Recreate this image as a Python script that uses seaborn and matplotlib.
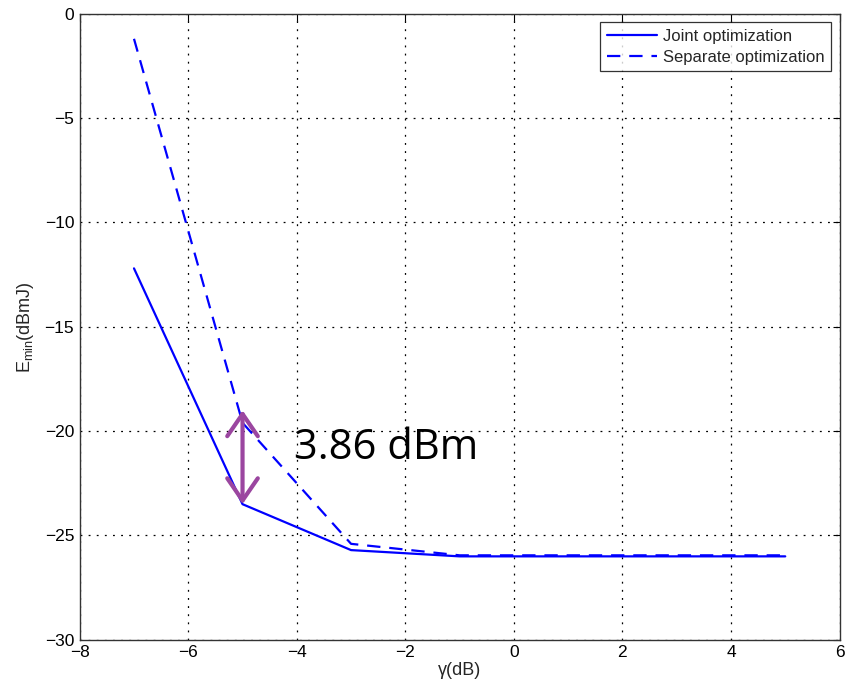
import numpy as np
import pandas as pd
import matplotlib.pyplot as plt
import seaborn as sns

# values
gamma_db = [-7, -5, -3, -1, 1, 3, 5]
joint_opt = [-12.2, -23.5, -25.7, -26.0, -26.0, -26.0, -26.0]
separate_opt = [-1.2, -19.6, -25.4, -25.95, -25.95, -25.95, -25.95]
series_names = ["Joint optimization", "Separate optimization"]

df = pd.DataFrame({
    "gamma": gamma_db * 2,
    "E": joint_opt + separate_opt,
    "method": [series_names[0]] * len(gamma_db) + [series_names[1]] * len(gamma_db),
})

sns.set_theme(style="white")
plt.rcParams["font.family"] = ["Liberation Sans", "DejaVu Sans"]
plt.rcParams["mathtext.fontset"] = "custom"
plt.rcParams["mathtext.rm"] = "Liberation Sans"

fig, ax = plt.subplots(figsize=(8.48, 6.88), dpi=100)
fig.subplots_adjust(left=0.094, right=0.99, bottom=0.07, top=0.98)

sns.lineplot(
    data=df, x="gamma", y="E", style="method",
    dashes={series_names[0]: "", series_names[1]: (6, 4)},
    color="#0000ff", linewidth=1.6, ax=ax,
)

ax.set_xlim(-8, 6)
ax.set_ylim(-30, 0)
ax.set_xticks(np.arange(-8, 7, 2))
ax.set_yticks(np.arange(-30, 1, 5))
ax.set_xticklabels([f"\u2212{abs(v)}" if v < 0 else str(v) for v in range(-8, 7, 2)])
ax.set_yticklabels([f"\u2212{abs(v)}" if v < 0 else str(v) for v in range(-30, 1, 5)])
ax.tick_params(direction="in", top=True, right=True, length=5, width=0.8,
               labelsize=12.5, colors="black", pad=4)
ax.grid(True, linestyle=(0, (1.5, 5)), color="black", linewidth=0.9)
for s in ax.spines.values():
    s.set_color("#333333")
    s.set_linewidth(1.0)

ax.set_xlabel("\u03b3(dB)", fontsize=13, labelpad=1)
ax.set_ylabel(r"E$_{\rm min}$(dBmJ)", fontsize=13, labelpad=6)

leg = ax.legend(loc="upper right", fontsize=12, frameon=True, fancybox=False,
                handlelength=3.0, borderpad=0.4, labelspacing=0.35,
                handletextpad=0.35, borderaxespad=0.5)
leg.get_frame().set_edgecolor("black")
leg.get_frame().set_linewidth(0.9)

# gap annotation at gamma = -5
ax.annotate("", xy=(-5, joint_opt[1]), xytext=(-5, -19.0),
            arrowprops=dict(arrowstyle="<->,head_length=0.8,head_width=0.55",
                            mutation_scale=20, color="#9b46a0", lw=3,
                            shrinkA=0, shrinkB=0))
ax.text(-4.05, -20.8, "3.86 dBm", fontsize=30, family=["Open Sans", "DejaVu Sans"],
        color="black", va="center", ha="left")

fig.savefig("out.png", dpi=100)
